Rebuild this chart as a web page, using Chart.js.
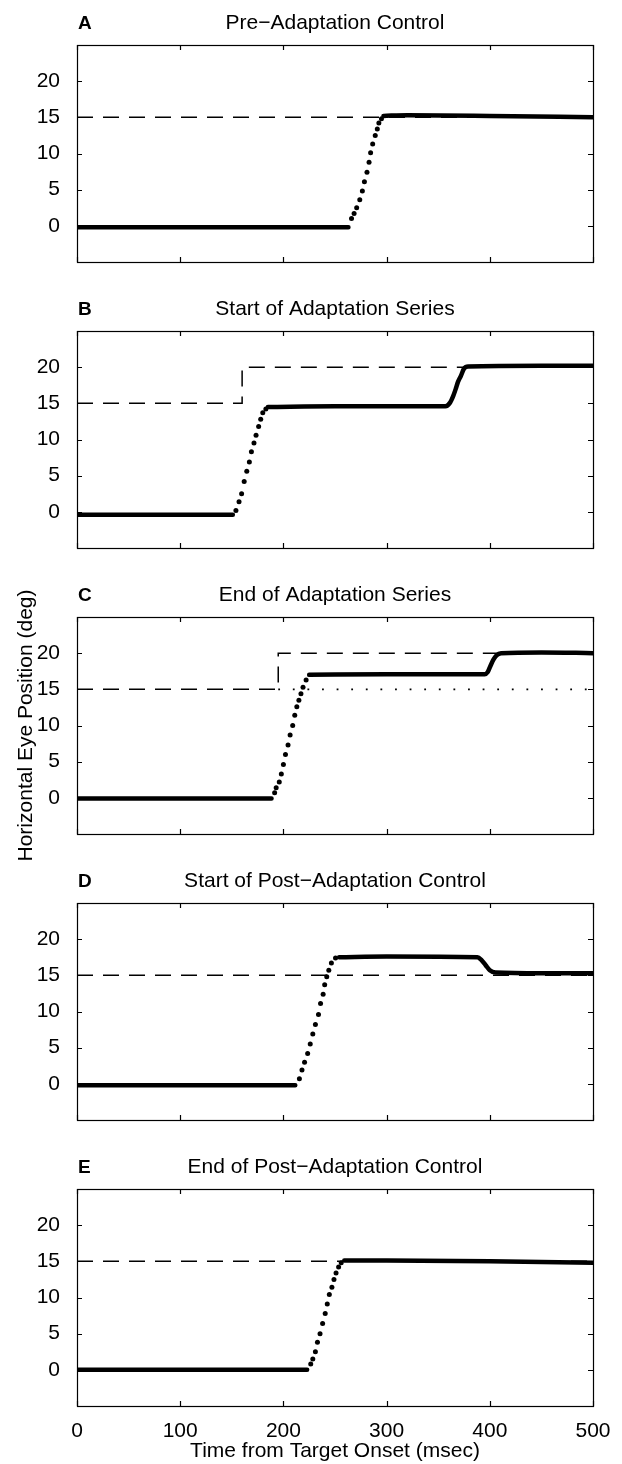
<!DOCTYPE html>
<html>
<head>
<meta charset="utf-8">
<script src="https://cdn.jsdelivr.net/npm/chart.js@4"></script>
<style>
  body { margin: 0; background: #fff; }
  #wrap { position: relative; width: 622px; height: 1464px; overflow: hidden; }
  canvas { position: absolute; left: 0; }
</style>
</head>
<body>
<div id="wrap"></div>
<script>
const letters = ['A', 'B', 'C', 'D', 'E'];
const titles = ['Pre\u2212Adaptation Control', 'Start of Adaptation Series', 'End of Adaptation Series',
  'Start of Post\u2212Adaptation Control', 'End of Post\u2212Adaptation Control'];
const xTicks = [0, 100, 200, 300, 400, 500];
const yTicks = [0, 5, 10, 15, 20];

// target position (dashed), [msec, deg]
const targetA = [[0, 15], [500, 15]];
const targetB = [[0, 15], [160, 15], [160, 20], [500, 20]];
const targetC = [[0, 15], [195, 15], [195, 20], [500, 20]];
const targetD = [[0, 15], [500, 15]];
const targetE = [[0, 15], [500, 15]];
// original target position shown dotted in C
const origTargetC = [[195, 15], [500, 15]];

// eye position during fixation (thick trace), null = gap
const fixA = [[0, -0.2], [263, -0.2], null, [297, 15.2], [320, 15.3], [400, 15.2], [500, 15.0]];
const fixB = [[0, -0.4], [151, -0.4], null, [185, 14.5], [250, 14.6], [357, 14.6], [361.5, 15.1], [364.5, 16.0],
  [367, 17.0], [369, 17.9], [372, 18.8], [375, 19.8], [379, 20.1], [450, 20.2], [500, 20.2]];
const fixC = [[0, -0.1], [188.5, -0.1], null, [225, 17.0], [300, 17.1], [395, 17.1], [398, 17.4], [400.5, 18.2],
  [403.5, 19.1], [406.5, 19.7], [411, 20.0], [450, 20.1], [500, 20.0]];
const fixD = [[0, -0.2], [211.5, -0.2], null, [254, 17.5], [300, 17.6], [388, 17.5], [392, 17.1], [396, 16.4],
  [400, 15.7], [405.5, 15.4], [450, 15.3], [500, 15.3]];
const fixE = [[0, 0], [223, 0], null, [259, 15.1], [300, 15.1], [400, 15.0], [500, 14.8]];

// individual samples during the saccade (dots)
const sacA = [[266, 1.0], [268.5, 1.7], [271, 2.5], [274, 3.6], [276.5, 4.8], [278.5, 6.1], [281, 7.4], [283, 8.8],
  [284.5, 10.1], [286.5, 11.3], [289, 12.5], [291, 13.4], [292.5, 14.2], [295, 14.8]];
const sacB = [[154, 0.2], [157, 1.4], [159.5, 2.5], [162, 4.2], [164.5, 5.6], [167, 6.9], [169, 8.3], [171.5, 9.5],
  [173.5, 10.6], [176, 11.8], [178, 12.8], [180, 13.7], [183, 14.2]];
const sacC = [[191.5, 0.7], [193, 1.4], [196, 2.2], [198, 3.3], [200, 4.6], [202, 6.0], [204.5, 7.3], [206.5, 8.7],
  [209, 10.0], [211, 11.4], [213, 12.6], [215, 13.5], [217, 14.4], [219, 15.3], [222, 16.3]];
const sacD = [[215.5, 0.7], [218, 1.9], [220.5, 3.0], [223.5, 4.2], [226, 5.5], [228.5, 6.9], [231, 8.2], [234, 9.6],
  [236, 11.1], [238.5, 12.4], [240, 13.7], [242, 14.8], [244, 15.7], [246.5, 16.7], [250.5, 17.4]];
const sacE = [[226.5, 0.8], [228.5, 1.5], [231, 2.5], [233, 3.8], [235.5, 5.0], [238, 6.4], [240.5, 7.8], [242.5, 9.1],
  [244.5, 10.4], [247, 11.4], [249, 12.5], [251, 13.4], [253.5, 14.2], [256, 14.8]];

const targets = [targetA, targetB, targetC, targetD, targetE];
const fixations = [fixA, fixB, fixC, fixD, fixE];
const saccades = [sacA, sacB, sacC, sacD, sacE];

const FONT = "'Liberation Sans', Arial, Helvetica, sans-serif";
Chart.defaults.font.family = FONT;
Chart.defaults.font.size = 21;
Chart.defaults.color = '#000';

function toPts(arr) {
  let lastX = 0;
  return arr.map(p => {
    if (!p) return {x: lastX, y: null};
    lastX = p[0];
    return {x: p[0], y: p[1]};
  });
}

// frame, inward ticks, panel letter and title
const panelDecor = {
  id: 'panelDecor',
  afterDraw(chart, args, opts) {
    const {ctx, chartArea: a, scales} = chart;
    ctx.save();
    ctx.strokeStyle = '#000';
    ctx.lineWidth = 1.2;
    ctx.strokeRect(a.left + 0.5, a.top + 0.5, a.right - a.left, a.bottom - a.top);
    const len = 5;
    ctx.beginPath();
    scales.x.ticks.forEach(t => {
      const px = Math.round(scales.x.getPixelForValue(t.value)) + 0.5;
      ctx.moveTo(px, a.bottom); ctx.lineTo(px, a.bottom - len);
      ctx.moveTo(px, a.top); ctx.lineTo(px, a.top + len);
    });
    scales.y.ticks.forEach(t => {
      const py = Math.round(scales.y.getPixelForValue(t.value)) + 0.5;
      ctx.moveTo(a.left, py); ctx.lineTo(a.left + len, py);
      ctx.moveTo(a.right, py); ctx.lineTo(a.right - len, py);
    });
    ctx.stroke();
    ctx.fillStyle = '#000';
    ctx.textBaseline = 'alphabetic';
    ctx.textAlign = 'left';
    ctx.font = 'bold 19px ' + FONT;
    ctx.fillText(opts.letter, a.left + 1, a.top - 16);
    ctx.textAlign = 'center';
    ctx.font = '21px ' + FONT;
    ctx.fillText(opts.title, (a.left + a.right) / 2, a.top - 16);
    ctx.restore();
  }
};

const wrap = document.getElementById('wrap');
const pitch = 286;

letters.forEach((letter, i) => {
  const last = i === letters.length - 1;
  // canvases overlap a little so the long y title in C is not cut
  const h = last ? 1464 - pitch * i : pitch + 20;
  const canvas = document.createElement('canvas');
  canvas.width = 622;
  canvas.height = h;
  canvas.style.top = (pitch * i) + 'px';
  wrap.appendChild(canvas);

  const datasets = [
    {
      data: toPts(saccades[i]),
      showLine: false,
      pointRadius: 2.5,
      pointBackgroundColor: '#000',
      pointBorderWidth: 0
    },
    {
      data: toPts(fixations[i]),
      borderColor: '#000',
      borderWidth: 4.5,
      borderCapStyle: 'round',
      borderJoinStyle: 'round',
      pointRadius: 0,
      spanGaps: false,
      cubicInterpolationMode: 'monotone'
    },
    {
      data: toPts(targets[i]),
      borderColor: '#000',
      borderWidth: 1.5,
      borderDash: [16, 10],
      pointRadius: 0
    }
  ];
  if (i === 2) {
    datasets.push({
      data: toPts(origTargetC),
      borderColor: '#000',
      borderWidth: 1.8,
      borderDash: [1.8, 12.8],
      pointRadius: 0
    });
  }

  new Chart(canvas, {
    type: 'line',
    data: {datasets},
    options: {
      responsive: false,
      animation: false,
      devicePixelRatio: 1,
      layout: {padding: {top: 45, right: 29, left: 0, bottom: 0}},
      plugins: {
        legend: {display: false},
        tooltip: {enabled: false},
        panelDecor: {letter, title: titles[i]}
      },
      scales: {
        x: {
          type: 'linear',
          min: 0,
          max: 500,
          afterBuildTicks: s => { s.ticks = xTicks.map(v => ({value: v})); },
          afterFit: s => { s.height = h - 262; },
          grid: {display: false},
          border: {display: false},
          ticks: {display: last, padding: 5, maxRotation: 0},
          title: {display: last, text: 'Time from Target Onset (msec)', padding: {top: 0, bottom: 0}}
        },
        y: {
          type: 'linear',
          min: -5,
          max: 25,
          afterBuildTicks: s => { s.ticks = yTicks.map(v => ({value: v})); },
          afterFit: s => { s.width = 77; },
          grid: {display: false},
          border: {display: false},
          ticks: {padding: 9},
          title: {display: i === 2, text: 'Horizontal Eye Position (deg)', padding: {top: 14, bottom: 0}}
        }
      }
    },
    plugins: [panelDecor]
  });
});
</script>
</body>
</html>
